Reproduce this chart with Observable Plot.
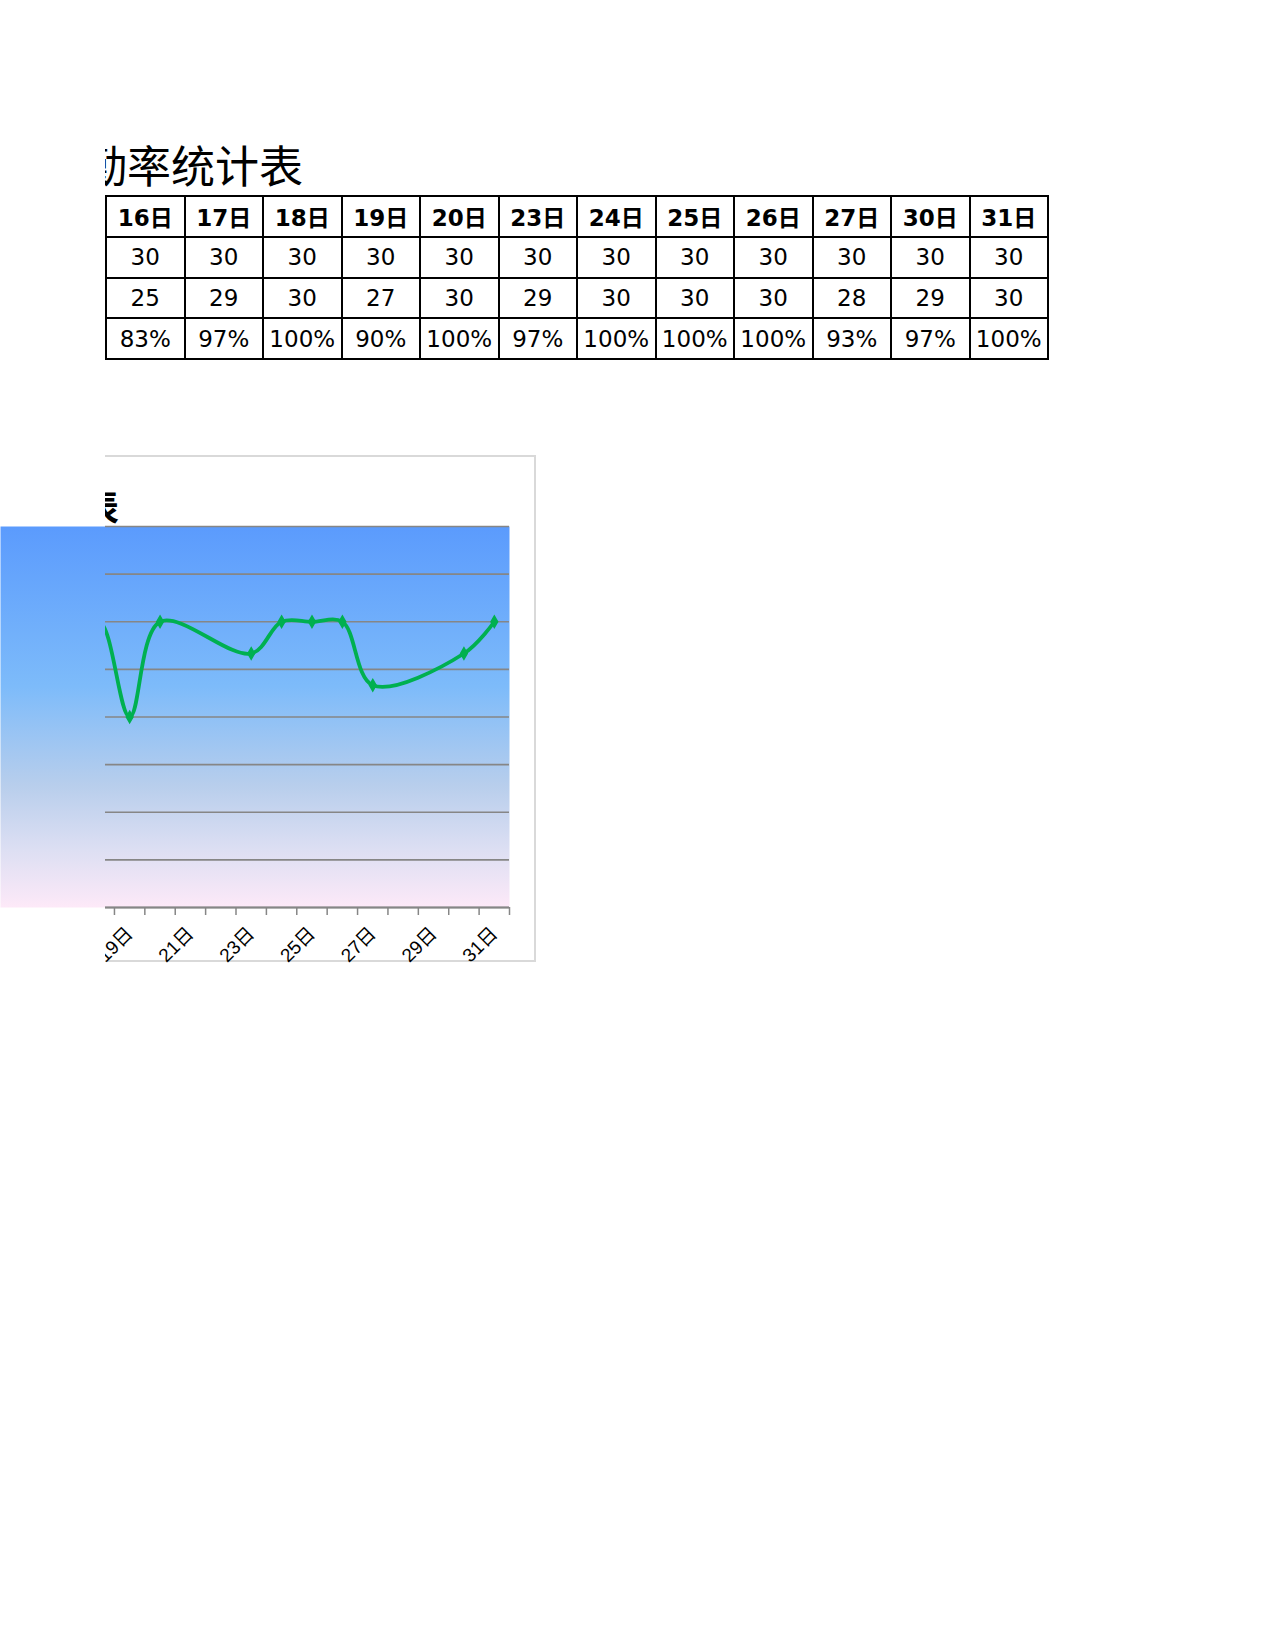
<!DOCTYPE html>
<html>
<head>
<meta charset="utf-8">
<script src="https://cdn.jsdelivr.net/npm/d3@7"></script>
<script src="https://cdn.jsdelivr.net/npm/@observablehq/plot@0.6"></script>
<style>
  html, body { margin: 0; padding: 0; background: #fff; }
  body { width: 1275px; height: 1650px; position: relative; overflow: hidden;
         font-family: "DejaVu Sans", "Noto Sans CJK SC", sans-serif; color: #000; }
  #topClip { position: absolute; left: 105px; top: 0; width: 1170px; height: 440px; overflow: hidden; }
  #title { position: absolute; right: 972px; top: 142px; font-family: "Noto Sans CJK SC", sans-serif;
           font-size: 44px; line-height: 44px; white-space: nowrap; }
  table { position: absolute; left: 0; top: 195px; border-collapse: collapse; table-layout: fixed; width: 944px; }
  td { border: 2px solid #000; text-align: center; vertical-align: middle; padding: 0;
       font-size: 23px; white-space: nowrap; overflow: hidden; }
  tr { height: 40.75px; }
  tr.head td { font-weight: bold; }
  #chartFrame { position: absolute; left: 105px; top: 455px; width: 429px; height: 503px;
                border-top: 2px solid #D9D9D9; border-right: 2px solid #D9D9D9; border-bottom: 2px solid #D9D9D9; }
  #chartTitleClip { position: absolute; left: 105px; top: 470px; width: 400px; height: 56px; overflow: hidden; }
  #chartTitle { position: absolute; right: 386px; top: 17px; font-family: "Noto Sans CJK SC", sans-serif;
                font-weight: bold; font-size: 36px; line-height: 36px; white-space: nowrap; }
  #chart { position: absolute; left: 0; top: 440px; }
</style>
</head>
<body>
<div id="topClip">
  <div id="title"></div>
  <table id="tbl"></table>
</div>
<div id="chartFrame"></div>
<div id="chartTitleClip"><div id="chartTitle"></div></div>
<div id="chart"></div>
<script>
// ---- data ----
const titleText = "出勤率统计表";
const chartTitleText = "出勤率统计表";
const days = [16, 17, 18, 19, 20, 23, 24, 25, 26, 27, 30, 31];
const expected = [30, 30, 30, 30, 30, 30, 30, 30, 30, 30, 30, 30];
const actual = [25, 29, 30, 27, 30, 29, 30, 30, 30, 28, 29, 30];
const yTicks = [0.70, 0.75, 0.80, 0.85, 0.90, 0.95, 1.00, 1.05, 1.10];
const xTickBounds = [15.5, 16.5, 17.5, 18.5, 19.5, 20.5, 21.5, 22.5, 23.5, 24.5, 25.5, 26.5, 27.5, 28.5, 29.5, 30.5, 31.5];
const xLabelDays = [15, 17, 19, 21, 23, 25, 27, 29, 31];

const rates = actual.map((a, i) => a / expected[i]);

// ---- title + table ----
document.getElementById("title").textContent = titleText;
document.getElementById("chartTitle").textContent = chartTitleText;
const tbl = d3.select("#tbl");
const rows = [
  {cls: "head", cells: days.map(d => d + "日")},
  {cls: "", cells: expected.map(String)},
  {cls: "", cells: actual.map(String)},
  {cls: "", cells: rates.map(r => Math.round(r * 100) + "%")}
];
rows.forEach(r => {
  const tr = tbl.append("tr").attr("class", r.cls);
  r.cells.forEach(c => tr.append("td").text(c));
});

// ---- chart ----
const data = days.map((d, i) => ({day: d, rate: rates[i]}));
const green = "#00B050";
const grid = "#868686";

const chart = Plot.plot({
  width: 560,
  height: 530,
  marginTop: 86,
  marginBottom: 63,
  marginLeft: 0,
  marginRight: 51,
  style: {background: "transparent", fontSize: "19px", fontFamily: "'Liberation Sans', 'Noto Sans CJK SC', sans-serif", color: "#000"},
  x: {type: "linear", domain: [14.75, 31.5], label: null},
  y: {domain: [0.7, 1.1], axis: null},
  marks: [
    Plot.frame({fill: "url(#bgGrad)", stroke: "none"}),
    Plot.ruleY(yTicks, {stroke: grid, strokeWidth: 1.6}),
    Plot.axisX(xTickBounds, {tickSize: 8, tickFormat: () => "", stroke: grid, strokeWidth: 1.5, label: null}),
    Plot.ruleY([0.7], {stroke: grid, strokeWidth: 2.2}),
    Plot.axisX(xLabelDays, {tickSize: 0, tickPadding: 23, tickRotate: -45, tickFormat: d => d + "日", fill: "#000", label: null}),
    Plot.line(data, {x: "day", y: "rate", curve: "catmull-rom", stroke: green, strokeWidth: 3.8}),
    Plot.dot(data, {x: "day", y: "rate", symbol: "diamond", r: 3.5, fill: green, stroke: green})
  ]
});

const svg = d3.select(chart);
const defs = svg.insert("defs", ":first-child");
const grad = defs.append("linearGradient").attr("id", "bgGrad")
  .attr("x1", 0).attr("y1", 0).attr("x2", 0).attr("y2", 1);
[[0, "#5B9BFD"], [0.42, "#7DBBFA"], [0.68, "#B8CEEC"], [0.85, "#DDDFF3"], [1, "#FDE9F8"]]
  .forEach(([o, c]) => grad.append("stop").attr("offset", o).attr("stop-color", c));
defs.append("clipPath").attr("id", "leftClip").attr("clipPathUnits", "userSpaceOnUse")
  .append("rect").attr("x", 105).attr("y", 0).attr("width", 455).attr("height", 530);

const wrap = svg.append("g").attr("clip-path", "url(#leftClip)");
Array.from(chart.children).forEach(el => {
  const tag = el.tagName.toLowerCase();
  if (tag === "defs" || tag === "style" || el === wrap.node()) return;
  if (el.getAttribute("aria-label") === "frame") return;
  wrap.node().appendChild(el);
});

document.getElementById("chart").appendChild(chart);
</script>
</body>
</html>
